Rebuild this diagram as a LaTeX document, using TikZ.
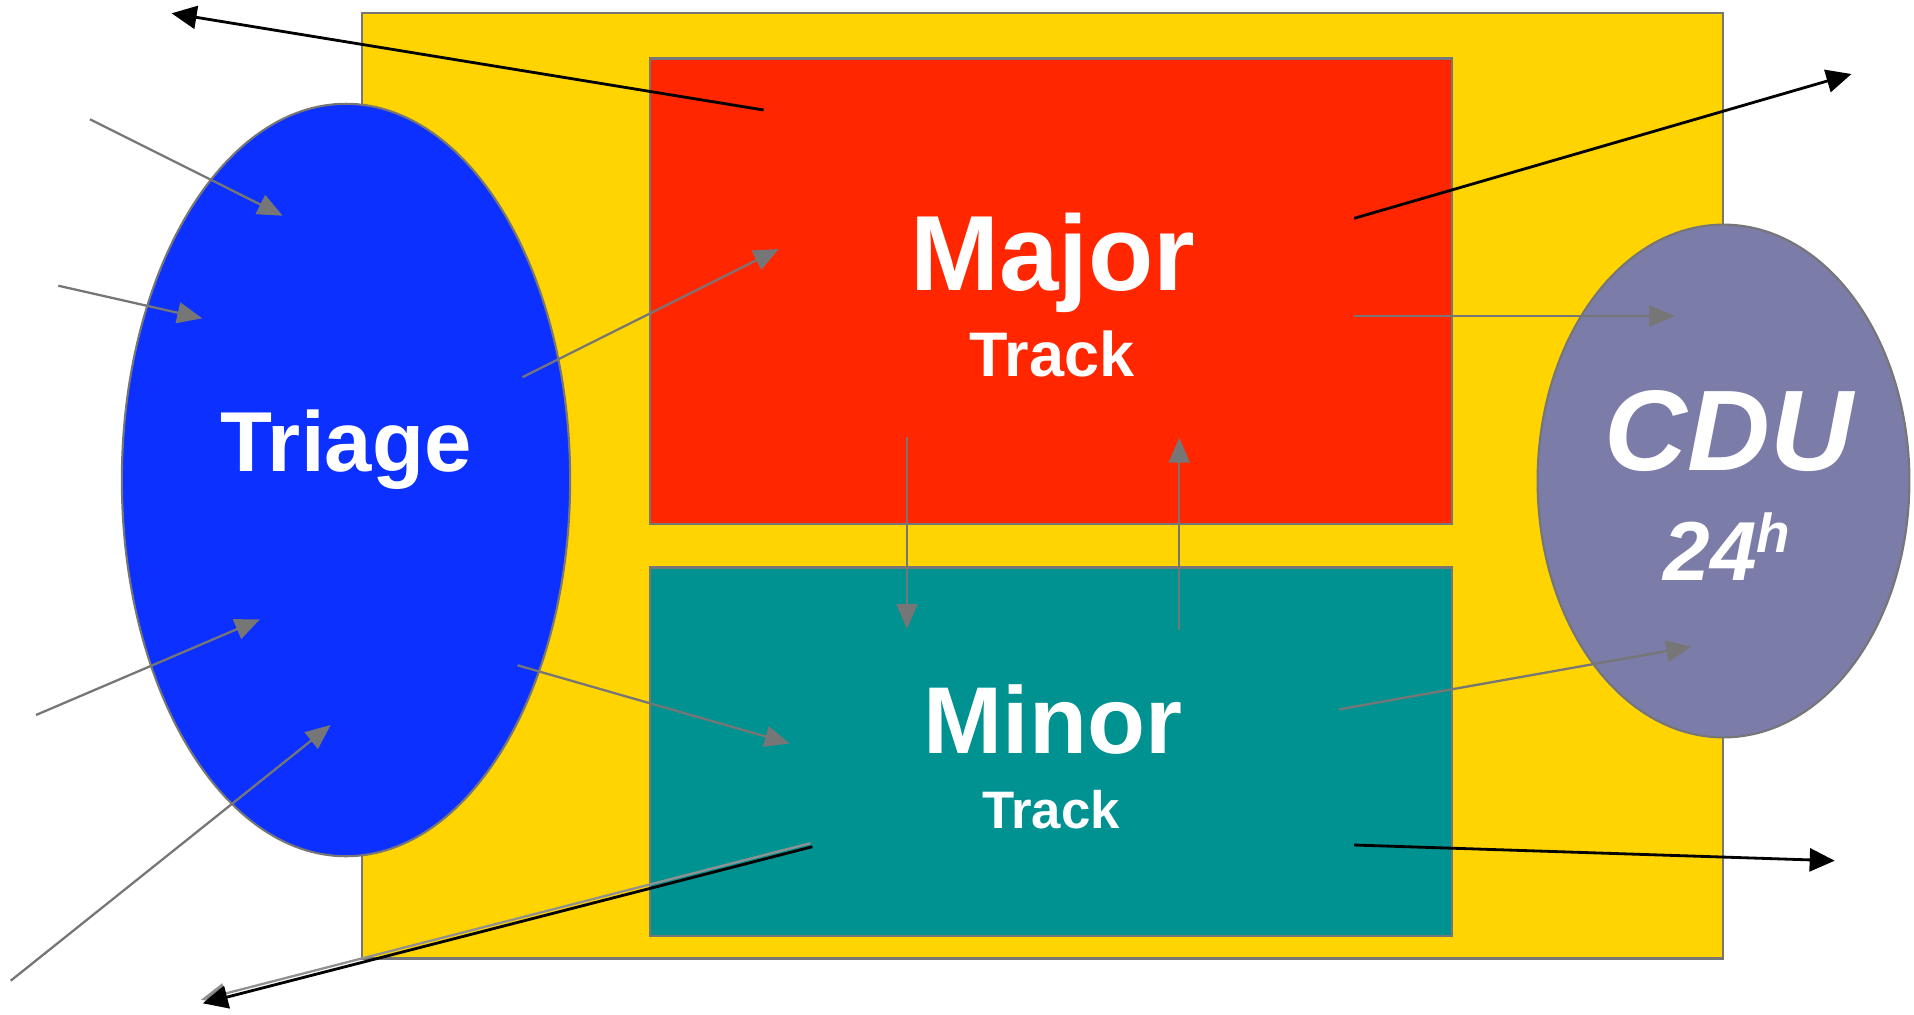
\documentclass[tikz,border=0pt]{standalone}
\usepackage{fontspec}
\setmainfont{Liberation Sans}
\usetikzlibrary{shapes.geometric,arrows.meta}
\definecolor{cyellow}{HTML}{FFD400}
\definecolor{cred}{HTML}{FF2600}
\definecolor{cteal}{HTML}{009191}
\definecolor{cblue}{HTML}{0B30FF}
\definecolor{ccdu}{HTML}{7B7CA8}
\definecolor{cgray}{HTML}{767676}
\begin{document}
\begin{tikzpicture}[x=0.01cm,y=-0.01cm,
  shapebox/.style={draw=cgray, line width=0.6pt, inner sep=0pt, outer sep=0pt},
  gline/.style={draw=cgray, line width=0.65pt, -{Triangle[length=0.25cm,width=0.21cm,fill=cgray]}},
  bline/.style={draw=black, line width=0.8pt, -{Triangle[length=0.25cm,width=0.23cm,fill=black]}},
  txt/.style={text=white, anchor=base, inner sep=0pt, outer sep=0pt}]
\useasboundingbox (0,0) rectangle (1914,1014);
% shapes
\node[shapebox, fill=cyellow, rectangle, minimum width=13.599cm, minimum height=9.448cm] (frame) at (1042.45,485.8) {};
\node[shapebox, fill=cblue, ellipse, minimum width=4.48cm, minimum height=7.52cm] (triage) at (346,480) {};
\node[shapebox, fill=cred, rectangle, minimum width=8.008cm, minimum height=4.651cm] (major) at (1051,291.15) {};
\node[shapebox, fill=cteal, rectangle, minimum width=8.008cm, minimum height=3.687cm] (minor) at (1051,751.95) {};
\node[shapebox, fill=ccdu, ellipse, minimum width=3.716cm, minimum height=5.125cm] (cdu) at (1723.5,481) {};
% texts
\node[txt, font=\bfseries\fontsize{24.2}{29}\selectfont] (ttriage) at (346,471.7) {Triage};
\node[txt, font=\bfseries\fontsize{30.4}{36}\selectfont] (tmajor) at (1053,290) {Major};
\node[txt, font=\bfseries\fontsize{17.9}{21}\selectfont] (tmajortrack) at (1052,376.7) {Track};
\node[txt, font=\bfseries\fontsize{27}{32}\selectfont] (tminor) at (1053,753.3) {Minor};
\node[txt, font=\bfseries\fontsize{15}{18}\selectfont] (tminortrack) at (1051,828.3) {Track};
\node[txt, font=\bfseries\itshape\fontsize{32.6}{38}\selectfont] (tcdu) at (1729,470) {CDU};
\node[txt, font=\bfseries\itshape\fontsize{23.8}{28}\selectfont] (t24) at (1727,580) {24\raisebox{0.27cm}{\fontsize{15.6}{18}\selectfont h}};
% connector end points
\coordinate (a1s) at (763.6,110);   \coordinate (a1e) at (171.6,13.3);
\coordinate (a2s) at (90,119.3);    \coordinate (a2e) at (282.7,215.7);
\coordinate (a3s) at (58.3,285.7);  \coordinate (a3e) at (202.3,318.3);
\coordinate (a4s) at (36,715);      \coordinate (a4e) at (260,619.3);
\coordinate (a5s) at (10.7,980.7);  \coordinate (a5e) at (330.7,725);
\coordinate (a6s) at (522.5,377.2); \coordinate (a6e) at (778.8,249);
\coordinate (a7s) at (517.6,665.3); \coordinate (a7e) at (789.8,743.4);
\coordinate (a8s) at (907,437.3);   \coordinate (a8e) at (907,629);
\coordinate (a9s) at (1179.3,630);  \coordinate (a9e) at (1179.3,437.7);
\coordinate (a10s) at (1354.2,218.3); \coordinate (a10e) at (1851.4,74);
\coordinate (a11s) at (1354.2,316);   \coordinate (a11e) at (1674.5,316);
\coordinate (a12s) at (1339.3,709.3); \coordinate (a12e) at (1691.3,646.7);
\coordinate (a13s) at (1354.2,845);   \coordinate (a13e) at (1834.7,860.7);
\coordinate (a14s) at (812.3,846.7);  \coordinate (a14e) at (202.8,1003.3);
% connectors
\draw[bline] (a1s) -- (a1e);
\draw[gline] (a2s) -- (a2e);
\draw[gline] (a3s) -- (a3e);
\draw[gline] (a4s) -- (a4e);
\draw[gline] (a5s) -- (a5e);
\draw[gline] (a6s) -- (a6e);
\draw[gline] (a7s) -- (a7e);
\draw[gline] (a8s) -- (a8e);
\draw[gline] (a9s) -- (a9e);
\draw[bline] (a10s) -- (a10e);
\draw[gline] (a11s) -- (a11e);
\draw[gline] (a12s) -- (a12e);
\draw[bline] (a13s) -- (a13e);
\draw[gline, draw=cgray!80] ([shift={(-2,-3.5)}]a14s) -- ([shift={(-2,-3.5)}]a14e);
\draw[bline] (a14s) -- (a14e);
\end{tikzpicture}
\end{document}
